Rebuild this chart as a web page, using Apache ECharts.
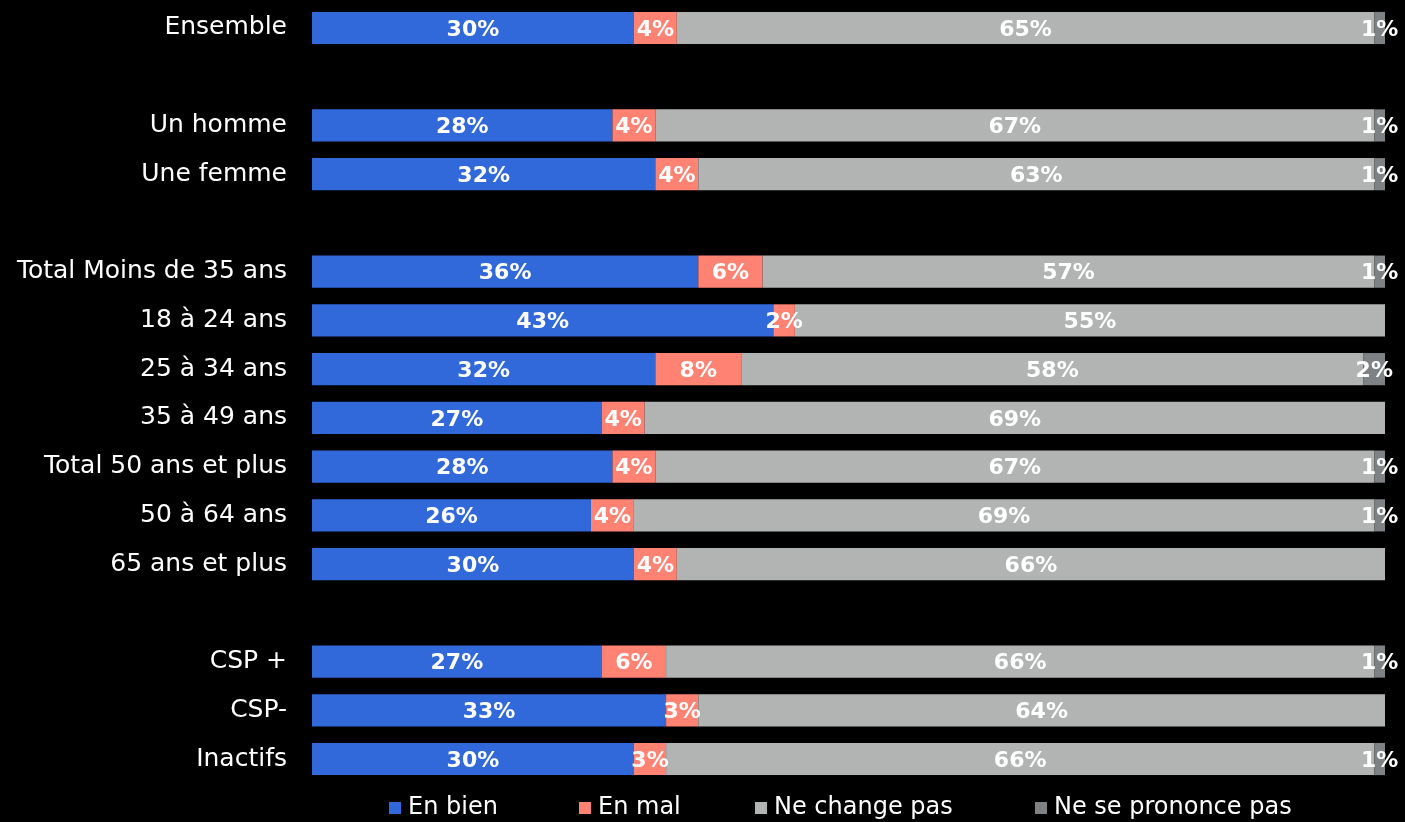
<!DOCTYPE html>
<html><head><meta charset="utf-8">
<script src="https://cdn.jsdelivr.net/npm/echarts@6/dist/echarts.min.js"></script>
<style>html,body{margin:0;padding:0;background:#000;}#c{width:1405px;height:822px;}</style>
</head><body><div id="c"></div>
<script>
var categories = ['Ensemble',' ','Un homme','Une femme','  ','Total Moins de 35 ans','18 à 24 ans','25 à 34 ans','35 à 49 ans','Total 50 ans et plus','50 à 64 ans','65 ans et plus','   ','CSP +','CSP-','Inactifs'];
var enBien =      [30,null,28,32,null,36,43,32,27,28,26,30,null,27,33,30];
var enMal =       [4,null,4,4,null,6,2,8,4,4,4,4,null,6,3,3];
var neChangePas = [65,null,67,63,null,57,55,58,69,67,69,66,null,66,64,66];
var nsp =         [1,null,1,1,null,1,null,2,null,1,1,null,null,1,null,1];
var seriesNames = ['En bien','En mal','Ne change pas','Ne se prononce pas'];
var colors = ['#3169DB','#FF8272','#B2B4B4','#7E8284'];
var dataSets = [enBien, enMal, neChangePas, nsp];
var font = 'DejaVu Sans';
var chart = echarts.init(document.getElementById('c'));
var legendLefts = [384, 574, 750, 1030];
chart.setOption({
  backgroundColor: '#000',
  animation: false,
  grid: {left: 312, right: 20, top: 3.6, bottom: 38.6},
  xAxis: {type: 'value', min: 0, max: 100, show: false},
  yAxis: {type: 'category', data: categories, inverse: true,
    axisLine: {show: false}, axisTick: {show: false},
    axisLabel: {color: '#fff', fontSize: 25, fontFamily: font, margin: 25, padding: [4, 0, 0, 0]}},
  legend: seriesNames.map(function(n, i){
    return {data: [n], left: legendLefts[i], bottom: -3, itemWidth: 12, itemHeight: 12, itemGap: 0,
      icon: 'rect', textStyle: {color: '#fff', fontSize: 24, fontFamily: font, padding: [0,0,0,2]}};
  }),
  series: seriesNames.map(function(n, i){
    return {name: n, type: 'bar', stack: 'a', data: dataSets[i], barCategoryGap: '34%',
      itemStyle: {color: colors[i]},
      label: {show: true, position: 'inside', offset: [0, 2], color: '#fff', fontWeight: 'bold', fontSize: 22, fontFamily: font,
        formatter: function(p){ return p.value == null ? '' : p.value + '%'; }}};
  })
});
</script></body></html>
